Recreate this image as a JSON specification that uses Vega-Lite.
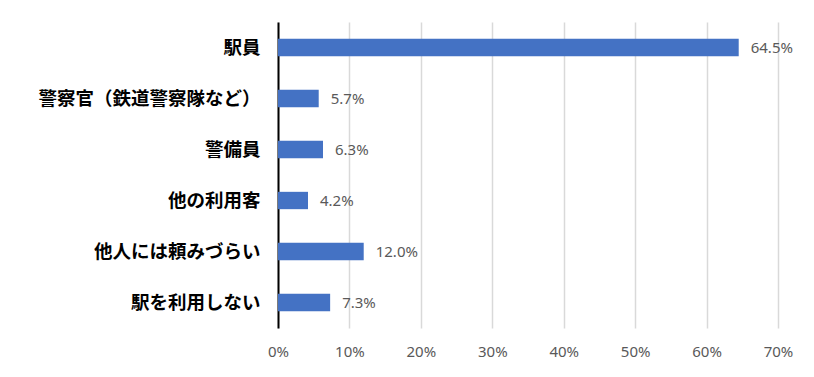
{
  "$schema": "https://vega.github.io/schema/vega-lite/v6.json",
  "autosize": {"type": "none"},
  "width": 500,
  "height": 306,
  "padding": {"left": 278, "top": 22, "right": 36, "bottom": 49},
  "background": "white",
  "data": {"values": [
    {"category": "駅員", "value": 0.645},
    {"category": "警察官（鉄道警察隊など）", "value": 0.057},
    {"category": "警備員", "value": 0.063},
    {"category": "他の利用客", "value": 0.042},
    {"category": "他人には頼みづらい", "value": 0.120},
    {"category": "駅を利用しない", "value": 0.073}
  ]},
  "encoding": {
    "y": {
      "field": "category", "type": "nominal", "sort": null,
      "scale": {"paddingInner": 0.66, "paddingOuter": 0.33},
      "axis": {"title": null, "ticks": false, "domainColor": "#000000", "domainWidth": 2, "labelFont": "Noto Sans CJK JP", "labelFontWeight": "bold", "labelFontSize": 18.5, "labelColor": "#000000", "labelPadding": 18, "labelLimit": 400}
    },
    "x": {
      "field": "value", "type": "quantitative",
      "scale": {"domain": [0, 0.7], "nice": false},
      "axis": {"title": null, "format": "%", "values": [0, 0.1, 0.2, 0.3, 0.4, 0.5, 0.6, 0.7], "domain": false, "ticks": false, "grid": true, "gridColor": "#d9d9d9", "gridWidth": 1.5, "labelFont": "Noto Sans", "labelFontSize": 15, "labelColor": "#595959", "labelPadding": 16, "labelOverlap": false, "labelFlush": false}
    }
  },
  "layer": [
    {"mark": {"type": "bar", "color": "#4472C4"}},
    {"mark": {"type": "text", "align": "left", "baseline": "middle", "dx": 12, "font": "Noto Sans", "fontSize": 15, "color": "#595959"},
     "encoding": {"text": {"field": "value", "type": "quantitative", "format": ".1%"}}}
  ],
  "config": {"view": {"stroke": null}}
}
